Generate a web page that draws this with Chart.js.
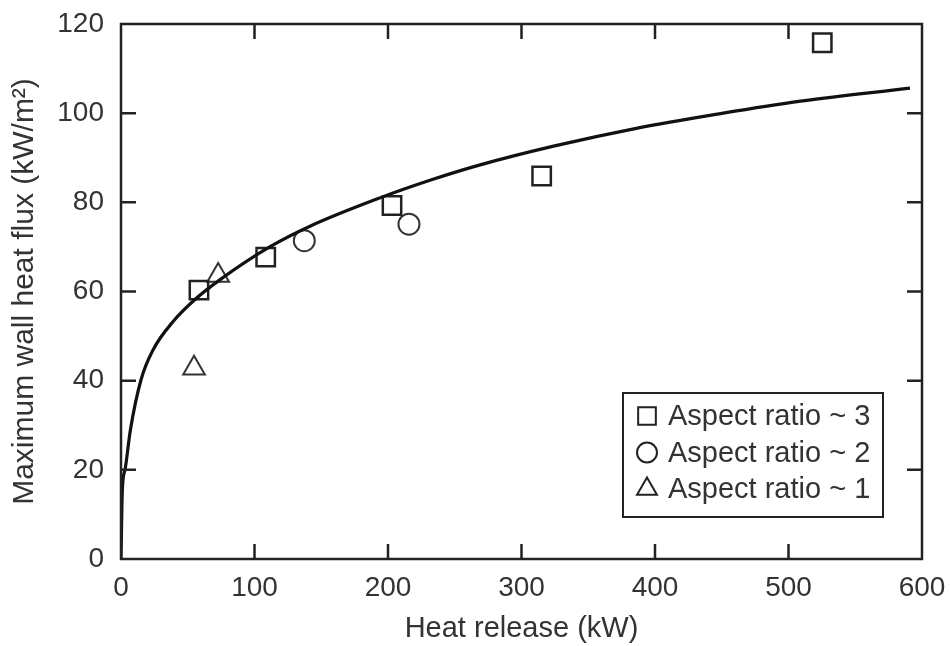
<!DOCTYPE html>
<html>
<head>
<meta charset="utf-8">
<script src="https://cdn.jsdelivr.net/npm/chart.js@4.4.1/dist/chart.umd.min.js"></script>
<style>
  html, body { margin: 0; padding: 0; background: #fff; }
  #wrap { width: 950px; height: 646px; }
</style>
</head>
<body>
<div id="wrap"><canvas id="flux" width="950" height="646"></canvas></div>
<script>
// data
const xTicks = [0, 100, 200, 300, 400, 500, 600];
const yTicks = [0, 20, 40, 60, 80, 100, 120];

// fitted curve (kW -> kW/m2)
const curveQ = [0, 1, 3, 7, 15, 24, 40, 55, 74, 112, 142, 194, 232, 269, 324, 386, 449, 509, 591];
const curveF = [0, 15.5, 20, 28.9, 40.2, 46.9, 53.6, 58.1, 62.6, 70.1, 74.7, 81.0, 85.0, 88.4, 92.6, 96.6, 99.9, 102.7, 105.6];

// aspect ratio ~ 3
const ar3Q = [58.4, 108.4, 203, 315.1, 525.3];
const ar3F = [60.3, 67.7, 79.3, 85.9, 115.8];
// aspect ratio ~ 2
const ar2Q = [137.3, 215.7];
const ar2F = [71.4, 75.1];
// aspect ratio ~ 1
const ar1Q = [54.7, 72.8];
const ar1F = [42.8, 63.6];

const seriesLabels = ['Aspect ratio ~ 3', 'Aspect ratio ~ 2', 'Aspect ratio ~ 1'];

const ink = '#222';
const textCol = '#333';
const fontFam = '"Liberation Sans", Arial, Helvetica, sans-serif';

function pts(xs, ys) {
  return xs.map((x, i) => ({ x: x, y: ys[i] }));
}

// box + inward ticks on all four sides
const frameTicks = {
  id: 'frameTicks',
  afterDatasetsDraw(chart) {
    const ctx = chart.ctx;
    const a = chart.chartArea;
    const sx = chart.scales.x, sy = chart.scales.y;
    const len = 15;
    ctx.save();
    ctx.strokeStyle = ink;
    ctx.lineWidth = 2.5;
    ctx.strokeRect(a.left, a.top, a.right - a.left, a.bottom - a.top);
    ctx.beginPath();
    xTicks.slice(1, -1).forEach(v => {
      const px = sx.getPixelForValue(v);
      ctx.moveTo(px, a.bottom); ctx.lineTo(px, a.bottom - len);
      ctx.moveTo(px, a.top); ctx.lineTo(px, a.top + len);
    });
    yTicks.slice(1, -1).forEach(v => {
      const py = sy.getPixelForValue(v);
      ctx.moveTo(a.left, py); ctx.lineTo(a.left + len, py);
      ctx.moveTo(a.right, py); ctx.lineTo(a.right - len, py);
    });
    ctx.stroke();
    ctx.restore();
  }
};

// boxed legend in lower right of the plot
const boxLegend = {
  id: 'boxLegend',
  afterDraw(chart) {
    const ctx = chart.ctx;
    const a = chart.chartArea;
    const w = 260, h = 124;
    const left = a.right - 39 - w, top = a.bottom - 42 - h;
    ctx.save();
    ctx.fillStyle = '#fff';
    ctx.fillRect(left, top, w, h);
    ctx.strokeStyle = ink;
    ctx.lineWidth = 2;
    ctx.strokeRect(left, top, w, h);
    ctx.font = '29px ' + fontFam;
    ctx.textBaseline = 'middle';
    ctx.textAlign = 'left';
    const ds = chart.data.datasets.slice(1);
    ds.forEach((d, i) => {
      const cy = top + 23 + i * 36.5;
      ctx.strokeStyle = ink;
      ctx.fillStyle = 'rgba(0,0,0,0)';
      ctx.lineWidth = 2;
      Chart.helpers.drawPoint(ctx, {
        pointStyle: d.pointStyle,
        radius: d.legendRadius,
        rotation: 0,
        borderWidth: 2
      }, left + 24, cy);
      ctx.fillStyle = textCol;
      ctx.fillText(d.label, left + 45, cy + 1);
    });
    ctx.restore();
  }
};

new Chart(document.getElementById('flux'), {
  type: 'scatter',
  data: {
    datasets: [
      {
        type: 'line',
        label: 'fit',
        data: pts(curveQ, curveF),
        borderColor: '#111',
        borderWidth: 3.2,
        pointRadius: 0,
        fill: false,
        cubicInterpolationMode: 'monotone'
      },
      {
        label: seriesLabels[0],
        data: pts(ar3Q, ar3F),
        pointStyle: 'rect',
        pointRadius: 13,
        legendRadius: 12.5,
        pointBorderWidth: 2.5,
        borderColor: ink,
        backgroundColor: 'rgba(255,255,255,0)'
      },
      {
        label: seriesLabels[1],
        data: pts(ar2Q, ar2F),
        pointStyle: 'circle',
        pointRadius: 10.5,
        legendRadius: 10,
        pointBorderWidth: 2,
        borderColor: '#333',
        backgroundColor: 'rgba(255,255,255,0)'
      },
      {
        label: seriesLabels[2],
        data: pts(ar1Q, ar1F),
        pointStyle: 'triangle',
        pointRadius: 12.5,
        legendRadius: 11.5,
        pointBorderWidth: 2,
        borderColor: '#333',
        backgroundColor: 'rgba(255,255,255,0)'
      }
    ]
  },
  options: {
    responsive: false,
    animation: false,
    layout: { padding: 0 },
    plugins: {
      legend: { display: false },
      tooltip: { enabled: false }
    },
    scales: {
      x: {
        type: 'linear',
        min: 0, max: 600,
        afterBuildTicks: s => { s.ticks = xTicks.map(v => ({ value: v })); },
        afterFit: s => { s.height = 87; s.paddingLeft = 0; s.paddingRight = 0; },
        grid: { display: false, drawTicks: false },
        border: { display: false },
        ticks: { color: textCol, padding: 12, font: { family: fontFam, size: 28 } },
        title: {
          display: true,
          text: 'Heat release (kW)',
          color: textCol,
          padding: { top: 0, bottom: 0 },
          font: { family: fontFam, size: 29 }
        }
      },
      y: {
        type: 'linear',
        min: 0, max: 120,
        afterBuildTicks: s => { s.ticks = yTicks.map(v => ({ value: v })); },
        afterFit: s => { s.width = 121; s.paddingTop = 0; s.paddingBottom = 0; },
        grid: { display: false, drawTicks: false },
        border: { display: false },
        ticks: { color: textCol, padding: 17, font: { family: fontFam, size: 28 } },
        title: {
          display: true,
          text: 'Maximum wall heat flux (kW/m²)',
          color: textCol,
          padding: { top: 7, bottom: 0 },
          font: { family: fontFam, size: 30 }
        }
      },
      xTop: {
        type: 'linear', position: 'top', min: 0, max: 600,
        afterFit: s => { s.height = 24; s.paddingLeft = 0; s.paddingRight = 0; },
        grid: { display: false, drawTicks: false },
        border: { display: false },
        ticks: { display: false }
      },
      yRight: {
        type: 'linear', position: 'right', min: 0, max: 120,
        afterFit: s => { s.width = 28; s.paddingTop = 0; s.paddingBottom = 0; },
        grid: { display: false, drawTicks: false },
        border: { display: false },
        ticks: { display: false }
      }
    }
  },
  plugins: [frameTicks, boxLegend]
});
</script>
</body>
</html>
